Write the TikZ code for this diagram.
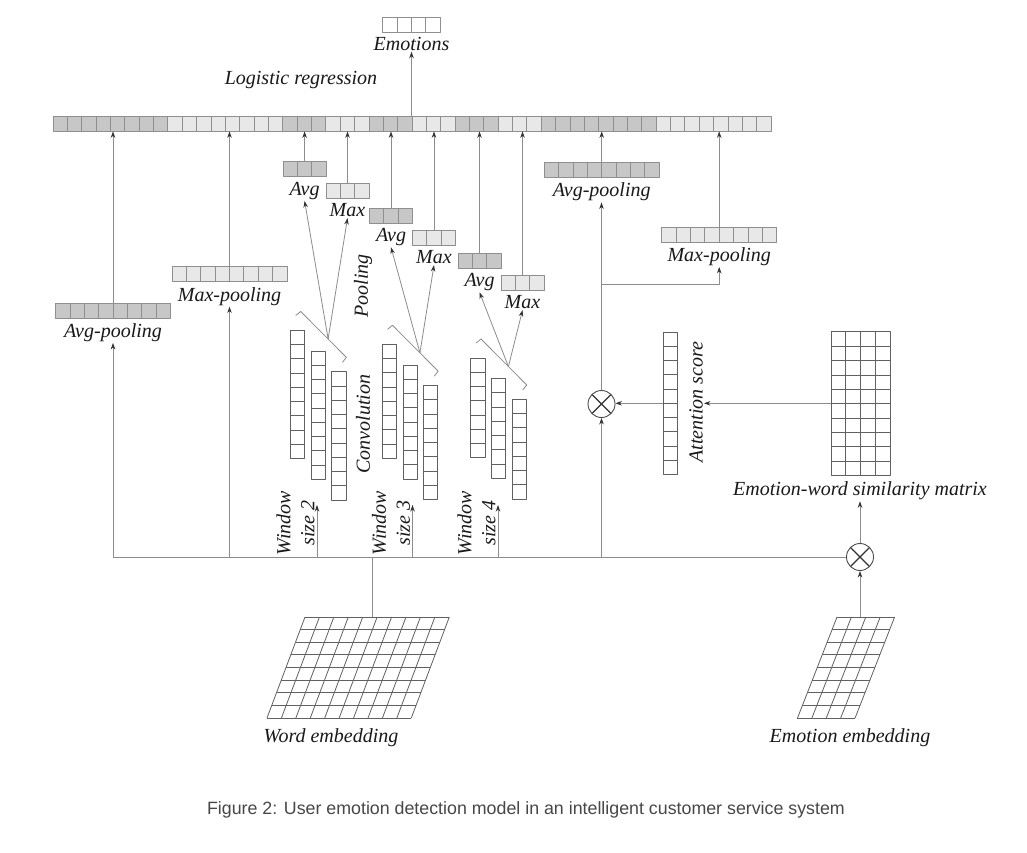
\documentclass[tikz,border=0pt]{standalone}
\usepackage{fontspec}
\setmainfont{Liberation Serif}
\newfontfamily\capfont{Liberation Sans}
\usetikzlibrary{arrows.meta,positioning,calc}
\definecolor{dk}{gray}{0.78}
\definecolor{lt}{gray}{0.91}
\definecolor{ln}{gray}{0.55}
\definecolor{bd}{gray}{0.56}
\definecolor{cl}{gray}{0.38}
\begin{document}
\begin{tikzpicture}[x=1pt,y=-1pt,line join=round,>={Stealth[length=6.5pt,width=4.5pt,color=black!80]},
  lab/.style={font=\fontsize{20}{24}\selectfont\itshape,text=black!90,inner sep=1pt},
  wire/.style={draw=ln,line width=0.8pt},
  cells/.style={draw=bd,line width=0.8pt,inner sep=0pt,minimum height=15pt,minimum width=#1*14.36pt,
    path picture={\foreach \i in {1,...,#1} \draw[bd,line width=0.8pt] ([xshift=\i*14.36pt]path picture bounding box.south west) -- ([xshift=\i*14.36pt]path picture bounding box.north west);}},
  vcells/.style={draw=cl,fill=white,line width=0.8pt,inner sep=0pt,minimum width=14.3pt,minimum height=#1*14.25pt,
    path picture={\foreach \i in {1,...,#1} \draw[cl,line width=0.8pt] ([yshift=\i*14.25pt]path picture bounding box.south west) -- ([yshift=\i*14.25pt]path picture bounding box.south east);}},
  mul/.style={circle,draw=black!70,line width=0.9pt,minimum size=27pt,inner sep=0pt,
    path picture={\draw[black!80,line width=1.3pt] (path picture bounding box.north west) -- (path picture bounding box.south east) (path picture bounding box.north east) -- (path picture bounding box.south west);}}]
\fill[white] (0,0) rectangle (1027,853);
\useasboundingbox (0,0) rectangle (1027,853);
\foreach \s/\n/\c in {0/8/dk,8/8/lt,16/3/dk,19/3/lt,22/3/dk,25/3/lt,28/3/dk,31/3/lt,34/8/dk,42/8/lt}
  \fill[\c] (53+\s*14.36,116) rectangle ++(\n*14.36,15);
\node[cells=50] (bar) at (412,123.5) {};
\node[cells=4,fill=white] (emo) at (411.5,25) {};
\node[lab,below=3pt of emo] (emolab) {Emotions};
\draw[wire,->] (bar.north -| emolab) -- (emolab.south);
\node[lab] (lr) at (301,80) {Logistic regression};
\node[cells=8,fill=dk] (avgL) at (113,310.5) {};
\node[lab,below=4pt of avgL] (avgLlab) {Avg-pooling};
\node[cells=8,fill=lt] (maxL) at (229.5,274.2) {};
\node[lab,below=4pt of maxL] (maxLlab) {Max-pooling};
\node[cells=8,fill=dk] (avgR) at (601.7,170) {};
\node[lab,below=4pt of avgR] (avgRlab) {Avg-pooling};
\node[cells=8,fill=lt] (maxR) at (719.2,234.5) {};
\node[lab,below=4pt of maxR] (maxRlab) {Max-pooling};
\foreach \b in {avgL,maxL,avgR,maxR} \draw[wire,->] (\b.north) -- (\b.north |- bar.south);
\foreach \g/\x/\y/\n in {1/297.7/394.5/9,2/389.5/401.2/8,3/478/407.8/7}{
  \foreach \k in {0,1,2} \node[vcells=\n] (conv\g\k) at (\x+20.6*\k,\y+20.7*\k) {};
  \coordinate (c\g) at ([shift={(3,-18.5)}]conv\g0.north);
  \coordinate (e\g) at ([shift={(7.5,-14)}]conv\g2.north);
  \draw[wire] ([shift={(-5,4)}]c\g) -- (c\g) -- (e\g) -- ([shift={(-4,5)}]e\g);
  \coordinate (p\g) at ($(c\g)!0.6!(e\g)$);
}
\foreach \g/\ax/\ay/\mx/\my in {1/304.6/169.2/347.5/190.5,2/391/215.5/434/237.5,3/479.5/260.5/522.5/282.5}{
  \node[cells=3,fill=dk] (avg\g) at (\ax,\ay) {};
  \node[lab,below=4pt of avg\g] (avglab\g) {Avg};
  \node[cells=3,fill=lt] (max\g) at (\mx,\my) {};
  \node[lab,below=4pt of max\g] (maxlab\g) {Max};
  \draw[wire,->] (avg\g.north) -- (avg\g.north |- bar.south);
  \draw[wire,->] (max\g.north) -- (max\g.north |- bar.south);
  \draw[wire,->] (p\g) -- (avglab\g.south);
  \draw[wire,->] (p\g) -- (maxlab\g.south);
}
\node[lab,rotate=90] (poollab) at (363,286) {Pooling};
\node[lab,rotate=90] (convlab) at (363,424) {Convolution};
\node[mul] (mulE) at (860,557) {};
\node[mul] (mulA) at (601.5,404) {};
\draw[wire] (avgLlab.south |- mulE) -- (mulE);
\draw[wire,->] (avgLlab.south |- mulE) -- (avgLlab.south);
\draw[wire,->] (maxLlab.south |- mulE) -- (maxLlab.south);
\foreach \g/\wx/\ws in {1/317/2,2/412.5/3,3/498/4}{
  \coordinate (wt\g) at (\wx,505);
  \draw[wire,->] (wt\g |- mulE) -- (wt\g);
  \node[lab,rotate=90,align=center] (win\g) at (\wx-21.5,523) {Window\\size \ws};
}
\coordinate (split) at (601.5,284);
\draw[wire,->] (mulA |- mulE) -- (mulA);
\draw[wire,->] (mulA.north) -- (mulA.north |- avgRlab.south);
\draw[wire,->] (split) -| (maxRlab.south);
\node[vcells=10] (att) at (670.3,403.3) {};
\node[lab,rotate=90] (attlab) at (696,402) {Attention score};
\node[draw=cl,line width=0.8pt,minimum width=58.4pt,minimum height=143.3pt,inner sep=0pt] (sim) at (860.8,403.3) {};
\foreach \i in {1,2,3} \draw[cl,line width=0.8pt] ([xshift=\i*14.6pt]sim.south west) -- ([xshift=\i*14.6pt]sim.north west);
\foreach \j in {1,...,9} \draw[cl,line width=0.8pt] ([yshift=\j*14.33pt]sim.south west) -- ([yshift=\j*14.33pt]sim.south east);
\node[lab] (simlab) at (860,491) {Emotion-word similarity matrix};
\draw[wire,->] (sim.west) -- (sim.west -| attlab.south);
\draw[wire,->] (att.west) -- (att.west -| mulA.east);
\draw[wire,->] (mulE.north) -- (mulE.north |- simlab.south);
\foreach \i in {0,...,8} \draw[cl,line width=0.8pt] (305-\i*4.75,617+\i*12.63) -- ++(144.3,0);
\foreach \j in {0,...,10} \draw[cl,line width=0.8pt] (305+\j*14.43,617) -- ++(-38,101);
\coordinate (wemb) at (372,617);
\node[lab] (wemblab) at (331,738) {Word embedding};
\draw[wire] (wemb |- mulE) -- (wemb);
\foreach \i in {0,...,8} \draw[cl,line width=0.8pt] (837-\i*4.94,617+\i*12.63) -- ++(57.6,0);
\foreach \j in {0,...,4} \draw[cl,line width=0.8pt] (837+\j*14.4,617) -- ++(-39.5,101);
\coordinate (eemb) at (860,617);
\node[lab] (eemblab) at (850,738) {Emotion embedding};
\draw[wire,->] (eemb) -- (mulE);
\node[font=\capfont\fontsize{17.8}{21}\selectfont,text=black!72] (cap) at (526,810) {Figure 2: User emotion detection model in an intelligent customer service system};
\end{tikzpicture}
\end{document}
